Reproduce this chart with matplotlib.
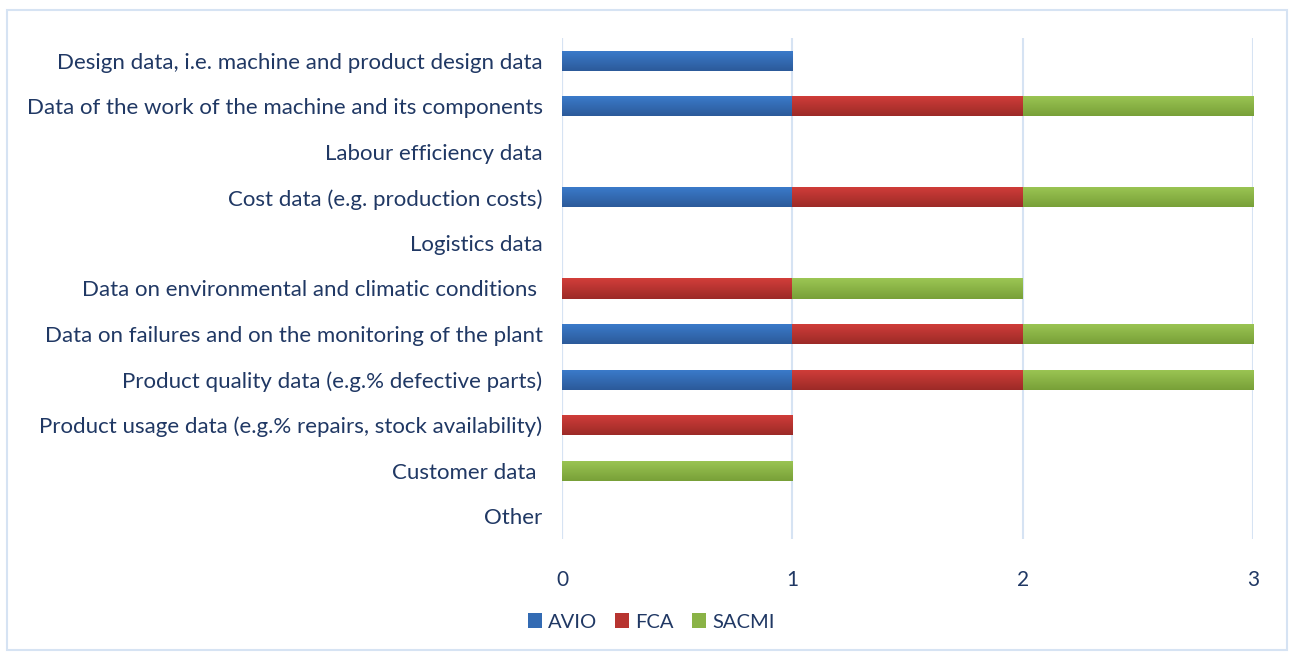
import numpy as np
import matplotlib
matplotlib.use("Agg")
import matplotlib.pyplot as plt
from matplotlib.patches import Rectangle
from matplotlib.colors import LinearSegmentedColormap

categories = [
    "Design data, i.e. machine and product design data",
    "Data of the work of the machine and its components",
    "Labour efficiency data",
    "Cost data (e.g. production costs)",
    "Logistics data",
    "Data on environmental and climatic conditions ",
    "Data on failures and on the monitoring of the plant",
    "Product quality data (e.g.% defective parts)",
    "Product usage data (e.g.% repairs, stock availability)",
    "Customer data ",
    "Other",
]
avio = [1, 1, 0, 1, 0, 0, 1, 1, 0, 0, 0]
fca = [0, 1, 0, 1, 0, 1, 1, 1, 1, 0, 0]
sacmi = [0, 1, 0, 1, 0, 1, 1, 1, 0, 1, 0]
series = [("AVIO", avio), ("FCA", fca), ("SACMI", sacmi)]
x_ticks = [0, 1, 2, 3]

# top / bottom shades of each series gradient
SHADES = {"AVIO": ("#3b7ccc", "#2c5a9a"),
          "FCA": ("#d23e3a", "#9c2a27"),
          "SACMI": ("#9cc654", "#78a038")}
TEXT = "#203864"
GRID = "#d6e3f3"

plt.rcParams["font.family"] = ["Lato", "DejaVu Sans"]

fig = plt.figure(figsize=(12.93, 6.57), dpi=100)
fig.patches.append(Rectangle((7 / 1293, 1 - 650 / 657), 1280 / 1293, 640 / 657,
                             transform=fig.transFigure, fill=False,
                             edgecolor=GRID, lw=1.5))
ax = fig.add_axes([562 / 1293, 1 - 539 / 657, (1253 - 562) / 1293, 501 / 657])

y = np.arange(len(categories))
left = np.zeros(len(categories))
grad = np.linspace(0, 1, 64).reshape(-1, 1)
for name, vals in series:
    vals = np.array(vals, dtype=float)
    top, bot = SHADES[name]
    cmap = LinearSegmentedColormap.from_list(name, [top, bot])
    bars = ax.barh(y, vals, left=left, height=0.44, color=cmap(0.5), label=name,
                   zorder=3)
    for b in bars:
        if b.get_width() <= 0:
            continue
        x0, y0 = b.get_x(), b.get_y()
        im = ax.imshow(grad, cmap=cmap, aspect="auto", zorder=4,
                       extent=(x0, x0 + b.get_width(), y0 + b.get_height(), y0))
        im.set_clip_path(b)
    left += vals

ax.set_ylim(len(categories) - 0.5, -0.5)
ax.set_xlim(0, 3)
ax.set_yticks(y)
ax.set_yticklabels(categories, fontsize=16, color=TEXT)
ax.set_xticks(x_ticks)
ax.set_xticklabels([str(t) for t in x_ticks], fontsize=15, color=TEXT)
ax.tick_params(length=0)
ax.tick_params(axis="y", pad=14)
ax.tick_params(axis="x", pad=22)
for s in ax.spines.values():
    s.set_visible(False)
ax.grid(axis="x", color=GRID, lw=1.5, zorder=0)
ax.axvline(0, color=GRID, lw=1.5, zorder=1)

leg = fig.legend(loc="center", bbox_to_anchor=(651 / 1293, 1 - 622 / 657), ncol=3,
                 frameon=False, fontsize=14.5, handlelength=0.7, handleheight=0.7,
                 columnspacing=0.9, handletextpad=0.3)
for t in leg.get_texts():
    t.set_color(TEXT)

fig.savefig("out.png", dpi=100)
